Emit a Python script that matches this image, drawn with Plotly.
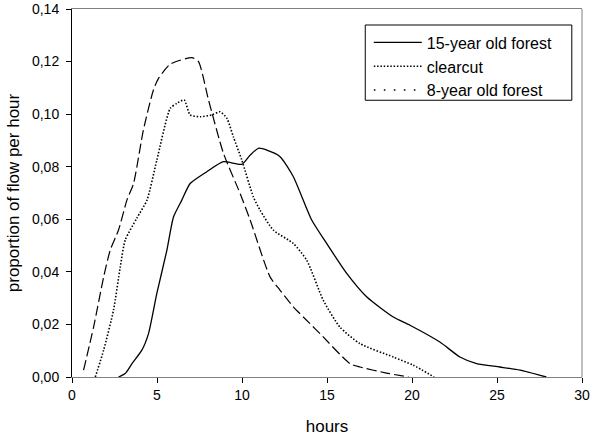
import plotly.graph_objects as go

# 15-year old forest (solid)
forest15_x = [2.74, 3.13, 3.53, 4.11, 4.5, 4.99, 5.58, 5.97, 6.46, 6.95, 7.93, 8.91, 9.99, 10.48, 10.96,
              11.46, 12.24, 13.02, 14.1, 14.98, 16.16, 17.33, 18.9, 19.88, 21.64, 22.82, 23.8,
              25.17, 26.35, 27.9]
forest15_y = [0.0, 0.0013, 0.0051, 0.0102, 0.0165, 0.0318, 0.0482, 0.0609, 0.0673, 0.0736, 0.0781, 0.0819,
              0.0809, 0.0844, 0.087, 0.0863, 0.0838, 0.0762, 0.0597, 0.0508, 0.0394, 0.0305,
              0.0228, 0.0197, 0.0133, 0.0076, 0.0051, 0.0038, 0.0026, 0.0]

# clearcut (fine dotted)
clearcut_x = [1.37, 1.86, 2.44, 2.84, 3.13, 3.82, 4.41, 4.99, 5.78, 6.17, 6.6, 6.95, 7.54, 8.23, 8.71,
              9.11, 9.49, 9.99, 10.67, 11.06, 11.84, 13.02, 13.81, 14.78, 15.76, 16.94, 18.9, 20.07, 21.3]
clearcut_y = [0.0, 0.0102, 0.0254, 0.0419, 0.0521, 0.0605, 0.0673, 0.0825, 0.1022, 0.1041, 0.1054, 0.0997,
              0.099, 0.0997, 0.1009, 0.0984, 0.0914, 0.0825, 0.0685, 0.0635, 0.0559, 0.0508, 0.0444,
              0.0292, 0.019, 0.0127, 0.0076, 0.0045, 0.0]

# 8-year old forest (drawn dashed)
forest8_x = [0.68, 1.27, 1.86, 2.25, 2.74, 3.23, 3.62, 4.2, 4.79, 5.09, 5.78, 7.05, 7.44, 8.03, 8.91,
             9.89, 10.48, 11.65, 12.24, 13.02, 14.0, 14.59, 16.35, 16.94, 18.5, 19.8]
forest8_y = [0.0026, 0.019, 0.038, 0.0483, 0.0560, 0.0673, 0.0736, 0.094, 0.1092, 0.1136, 0.119, 0.1215,
             0.120, 0.1054, 0.0851, 0.0698, 0.0597, 0.0381, 0.033, 0.0267, 0.0203, 0.0165, 0.0051,
             0.0038, 0.0015, 0.0]

x_ticks = [0, 5, 10, 15, 20, 25, 30]
y_ticks = [0.0, 0.02, 0.04, 0.06, 0.08, 0.10, 0.12, 0.14]

fig = go.Figure()
fig.add_trace(go.Scatter(x=forest15_x, y=forest15_y, mode="lines", name="15-year old forest",
                         line=dict(color="black", width=1.3, shape="spline", smoothing=0.6)))
fig.add_trace(go.Scatter(x=clearcut_x, y=clearcut_y, mode="lines", name="clearcut",
                         line=dict(color="black", width=1.6, dash="1.5px,1.8px", shape="spline", smoothing=0.6)))
fig.add_trace(go.Scatter(x=forest8_x, y=forest8_y, mode="lines", name="8-year old forest", showlegend=False,
                         line=dict(color="black", width=1.2, dash="10px,4px", shape="spline", smoothing=0.6)))
fig.add_trace(go.Scatter(x=[None], y=[None], mode="lines", name="8-year old forest",
                         line=dict(color="black", width=1.6, dash="1.6px,8.4px")))

font = "Liberation Sans, Arial, sans-serif"
fig.update_layout(
    width=592, height=439,
    margin=dict(l=72, r=10, t=9, b=62),
    paper_bgcolor="white", plot_bgcolor="white",
    separators=",.",
    font=dict(family=font, size=14, color="black"),
    showlegend=True,
    legend=dict(x=0.582, y=0.955, xanchor="left", yanchor="top", bgcolor="rgba(0,0,0,0)",
                borderwidth=0, font=dict(size=16, family=font), itemwidth=48,
                tracegroupgap=0),
    xaxis=dict(range=[0, 30], tickvals=x_ticks, ticks="outside", ticklen=5, tickcolor="black",
               showgrid=False, zeroline=False, showline=True, linecolor="#808080", linewidth=1,
               mirror=True, automargin=False, ticklabeloverflow="allow",
               title=dict(text="hours", font=dict(size=17), standoff=18),
               tickfont=dict(size=14)),
    yaxis=dict(range=[0, 0.14], tickvals=y_ticks, tickformat=".2f", ticks="outside", ticklen=5,
               tickcolor="black", showgrid=False, zeroline=False, showline=True, linecolor="black",
               linewidth=1, automargin=False, ticklabeloverflow="allow", ticklabelstandoff=4,
               title=dict(text="proportion of flow per hour", font=dict(size=17), standoff=8),
               tickfont=dict(size=14)),
    shapes=[
        dict(type="line", xref="paper", yref="paper", x0=1, x1=1, y0=0, y1=1,
             line=dict(color="#808080", width=1)),
        dict(type="rect", xref="paper", yref="paper", x0=0.575, x1=0.98, y0=0.752, y1=0.9565,
             line=dict(color="black", width=1), fillcolor="rgba(0,0,0,0)"),
    ],
)

fig.write_html("out.html", config={"displayModeBar": False},
               post_script="document.body.style.margin='0';document.body.style.overflow='hidden';")
